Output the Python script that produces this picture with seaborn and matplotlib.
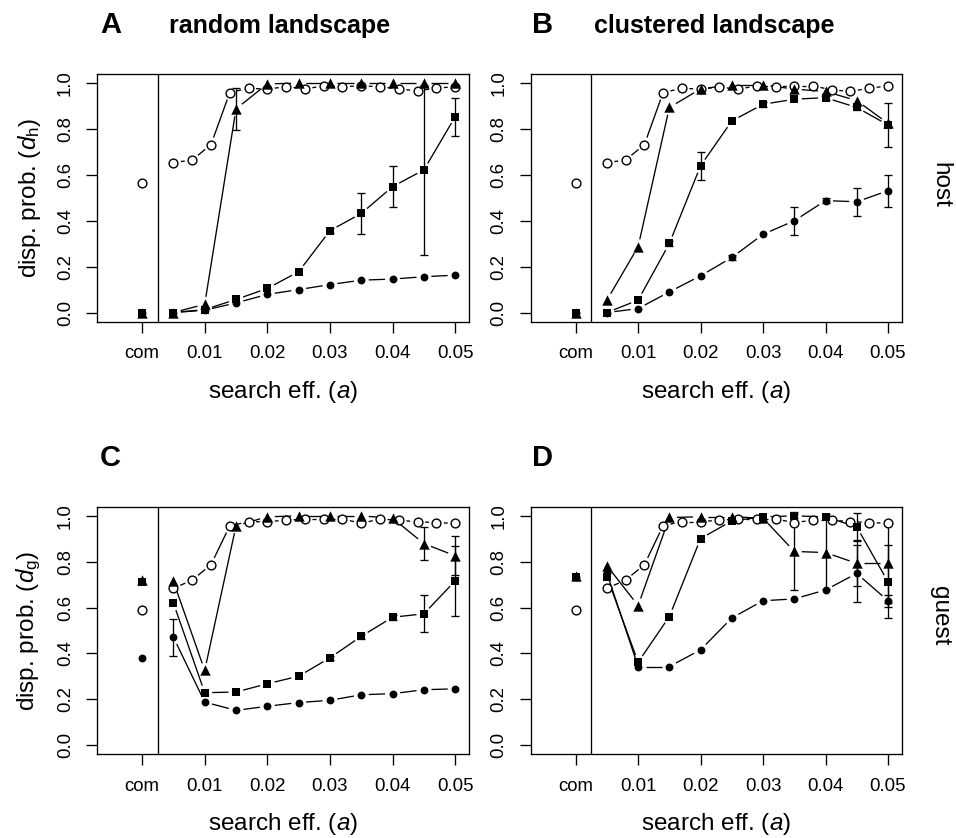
import numpy as np
import pandas as pd
import matplotlib
matplotlib.use("Agg")
import matplotlib.pyplot as plt
import seaborn as sns

# ---------------- data ----------------
a_vals = [0.005, 0.010, 0.015, 0.020, 0.025, 0.030, 0.035, 0.040, 0.045, 0.050]
a_fine = [0.005, 0.008, 0.011, 0.014, 0.017, 0.020, 0.023, 0.026,
          0.029, 0.032, 0.035, 0.038, 0.041, 0.044, 0.047, 0.050]
com_x = 0.0
xtick_vals = [0.0, 0.01, 0.02, 0.03, 0.04, 0.05]
xtick_labels = ["com", "0.01", "0.02", "0.03", "0.04", "0.05"]
ytick_vals = [0.0, 0.2, 0.4, 0.6, 0.8, 1.0]
ytick_labels = ["0.0", "0.2", "0.4", "0.6", "0.8", "1.0"]

# Panel A: host, random landscape
A_open_com, A_tri_com, A_sq_com, A_circ_com = 0.566, 0.0, 0.0, 0.0
A_open = [0.654, 0.665, 0.732, 0.959, 0.978, 0.974, 0.985, 0.975,
          0.988, 0.985, 0.988, 0.985, 0.974, 0.967, 0.978, 0.985]
A_tri = [0.0, 0.036, 0.888, 0.997, 1.0, 1.0, 1.0, 1.0, 1.0, 1.0]
A_tri_err = [0, 0, 0.09, 0, 0, 0, 0, 0, 0, 0]
A_sq = [0.0, 0.013, 0.057, 0.105, 0.178, 0.357, 0.432, 0.549, 0.622, 0.854]
A_sq_err = [0, 0, 0, 0, 0, 0.01, 0.09, 0.09, 0.37, 0.083]
A_circ = [0.0, 0.010, 0.042, 0.079, 0.100, 0.122, 0.141, 0.146, 0.156, 0.163]
A_circ_err = [0, 0, 0, 0, 0, 0, 0, 0, 0, 0]

# Panel B: host, clustered landscape
B_open_com, B_tri_com, B_sq_com, B_circ_com = 0.566, 0.0, 0.0, 0.0
B_open = [0.654, 0.665, 0.732, 0.959, 0.978, 0.974, 0.983, 0.974,
          0.988, 0.983, 0.988, 0.988, 0.971, 0.964, 0.978, 0.988]
B_tri = [0.054, 0.287, 0.894, 0.975, 0.993, 0.993, 0.974, 0.964, 0.924, 0.825]
B_tri_err = [0, 0, 0, 0, 0, 0, 0, 0, 0, 0]
B_sq = [0.0, 0.054, 0.301, 0.640, 0.835, 0.908, 0.930, 0.937, 0.894, 0.818]
B_sq_err = [0, 0, 0.012, 0.06, 0, 0.01, 0, 0.01, 0.01, 0.096]
B_circ = [0.0, 0.017, 0.090, 0.160, 0.240, 0.341, 0.400, 0.488, 0.483, 0.531]
B_circ_err = [0, 0, 0, 0, 0.01, 0, 0.06, 0.012, 0.06, 0.07]

# Panel C: guest, random landscape
C_open_com, C_tri_com, C_sq_com, C_circ_com = 0.59, 0.72, 0.71, 0.381
C_open = [0.684, 0.720, 0.787, 0.957, 0.974, 0.975, 0.981, 0.986,
          0.986, 0.986, 0.968, 0.986, 0.981, 0.974, 0.971, 0.967]
C_tri = [0.714, 0.326, 0.957, 0.996, 1.0, 1.0, 1.0, 0.99, 0.879, 0.826]
C_tri_err = [0, 0, 0, 0, 0, 0, 0, 0, 0.072, 0.085]
C_sq = [0.620, 0.229, 0.232, 0.268, 0.301, 0.381, 0.475, 0.558, 0.573, 0.717]
C_sq_err = [0, 0, 0, 0, 0, 0.01, 0.01, 0.01, 0.08, 0.152]
C_circ = [0.471, 0.188, 0.152, 0.170, 0.186, 0.196, 0.220, 0.225, 0.242, 0.246]
C_circ_err = [0.08, 0, 0, 0, 0, 0, 0, 0, 0, 0]

# Panel D: guest, clustered landscape
D_open_com, D_tri_com, D_sq_com, D_circ_com = 0.59, 0.739, 0.735, 0.735
D_open = [0.684, 0.720, 0.787, 0.957, 0.975, 0.975, 0.981, 0.986,
          0.986, 0.986, 0.971, 0.981, 0.981, 0.975, 0.971, 0.968]
D_tri = [0.783, 0.609, 0.993, 0.996, 0.996, 0.990, 0.845, 0.840, 0.793, 0.793]
D_tri_err = [0, 0, 0, 0, 0, 0, 0.17, 0.16, 0.10, 0.175]
D_sq = [0.735, 0.362, 0.561, 0.901, 0.978, 0.996, 1.0, 0.996, 0.952, 0.713]
D_sq_err = [0, 0, 0, 0, 0, 0, 0.01, 0.01, 0.06, 0.158]
D_circ = [0.750, 0.343, 0.343, 0.416, 0.555, 0.630, 0.638, 0.677, 0.749, 0.630]
D_circ_err = [0, 0, 0, 0, 0, 0, 0, 0, 0.126, 0.027]

panel_letters = ["A", "B", "C", "D"]
panel_titles = ["random landscape", "clustered landscape", "", ""]
row_labels = ["host", "guest"]
ylabels = [r"disp. prob. ($d_\mathrm{h}$)", r"disp. prob. ($d_\mathrm{g}$)"]
xlabel = r"search eff. ($a$)"

# ---------------- style ----------------
sns.set_style("ticks")
plt.rcParams["font.family"] = ["Liberation Sans", "DejaVu Sans"]
plt.rcParams["mathtext.fontset"] = "custom"
plt.rcParams["mathtext.rm"] = "Liberation Sans"
plt.rcParams["mathtext.it"] = "Liberation Sans:italic"
plt.rcParams["mathtext.bf"] = "Liberation Sans:bold"
plt.rcParams["text.color"] = "black"
plt.rcParams["axes.labelcolor"] = "black"
plt.rcParams["xtick.color"] = "black"
plt.rcParams["ytick.color"] = "black"
plt.rcParams["axes.edgecolor"] = "black"

W, H = 956, 838
fig = plt.figure(figsize=(W / 100, H / 100), dpi=100)
fig.patch.set_facecolor("white")


def rect(x0, y0, x1, y1):
    return [x0 / W, 1 - y1 / H, (x1 - x0) / W, (y1 - y0) / H]


rects = [rect(97, 74, 469, 321.7), rect(530.7, 74, 901.7, 321.7),
         rect(97, 506.7, 469, 754.4), rect(530.7, 506.7, 901.7, 754.4)]

panels = [
    (A_open_com, A_open, A_tri_com, A_tri, A_tri_err, A_sq_com, A_sq, A_sq_err, A_circ_com, A_circ, A_circ_err),
    (B_open_com, B_open, B_tri_com, B_tri, B_tri_err, B_sq_com, B_sq, B_sq_err, B_circ_com, B_circ, B_circ_err),
    (C_open_com, C_open, C_tri_com, C_tri, C_tri_err, C_sq_com, C_sq, C_sq_err, C_circ_com, C_circ, C_circ_err),
    (D_open_com, D_open, D_tri_com, D_tri, D_tri_err, D_sq_com, D_sq, D_sq_err, D_circ_com, D_circ, D_circ_err),
]

LW = 0.95
GAP = 7.5  # px gap around points (like R type="b")


def gapped_lines(ax, xs, ys, gap=GAP):
    pts = ax.transData.transform(np.column_stack([xs, ys]))
    inv = ax.transData.inverted()
    for p0, p1 in zip(pts[:-1], pts[1:]):
        d = p1 - p0
        L = np.hypot(d[0], d[1])
        if L <= 2 * gap:
            continue
        u = d / L
        a = inv.transform(p0 + gap * u)
        b = inv.transform(p1 - gap * u)
        ax.plot([a[0], b[0]], [a[1], b[1]], color="black", lw=LW,
                solid_capstyle="butt", zorder=2)


def errbars(ax, xs, ys, errs):
    xs = np.asarray(xs); ys = np.asarray(ys); errs = np.asarray(errs)
    m = errs > 0
    if m.any():
        ax.errorbar(xs[m], ys[m], yerr=errs[m], fmt="none", ecolor="black",
                    elinewidth=LW, capsize=3, capthick=LW, zorder=2)


for i, (ax_rect, pdata) in enumerate(zip(rects, panels)):
    ax = fig.add_axes(ax_rect)
    (o_com, o_vals, t_com, t_vals, t_err, s_com, s_vals, s_err,
     c_com, c_vals, c_err) = pdata
    ax.set_xlim(-0.0072, 0.0522)
    ax.set_ylim(-0.04, 1.04)

    ax.axvline(0.0025, color="black", lw=LW, zorder=1)

    # connecting lines with gaps
    gapped_lines(ax, a_fine, o_vals)
    gapped_lines(ax, a_vals, t_vals)
    gapped_lines(ax, a_vals, s_vals)
    gapped_lines(ax, a_vals, c_vals)

    errbars(ax, a_vals, t_vals, t_err)
    errbars(ax, a_vals, s_vals, s_err)
    errbars(ax, a_vals, c_vals, c_err)

    df_open = pd.DataFrame({"x": [com_x] + a_fine, "y": [o_com] + o_vals})
    df_tri = pd.DataFrame({"x": [com_x] + a_vals, "y": [t_com] + t_vals})
    df_sq = pd.DataFrame({"x": [com_x] + a_vals, "y": [s_com] + s_vals})
    df_circ = pd.DataFrame({"x": [com_x] + a_vals, "y": [c_com] + c_vals})

    sns.scatterplot(data=df_open, x="x", y="y", ax=ax, marker="o", s=40,
                    color="white", edgecolor="black", linewidth=1.0, zorder=3)
    sns.scatterplot(data=df_circ, x="x", y="y", ax=ax, marker="o", s=32,
                    color="black", edgecolor="black", linewidth=0, zorder=4)
    sns.scatterplot(data=df_sq, x="x", y="y", ax=ax, marker="s", s=30,
                    color="black", edgecolor="black", linewidth=0, zorder=4)
    sns.scatterplot(data=df_tri, x="x", y="y", ax=ax, marker="^", s=56,
                    color="black", edgecolor="black", linewidth=0, zorder=4)

    ax.set_xticks(xtick_vals)
    ax.set_xticklabels(xtick_labels)
    ax.set_yticks(ytick_vals)
    ax.set_yticklabels(ytick_labels, rotation=90, va="center")
    ax.tick_params(axis="both", direction="out", length=7.7, width=LW,
                   labelsize=13.4, color="black", labelcolor="black")
    ax.tick_params(axis="x", pad=9)
    ax.tick_params(axis="y", pad=9)
    for sp in ax.spines.values():
        sp.set_visible(True)
        sp.set_linewidth(LW)
        sp.set_color("black")
    ax.set_xlabel(xlabel, fontsize=17.5, labelpad=12, color="black")
    if i % 2 == 0:
        ax.set_ylabel(ylabels[i // 2], fontsize=17.5, labelpad=10, color="black")
    else:
        ax.set_ylabel("")
    ax.grid(False)
    ax.set_facecolor("white")

# panel letters and titles
letter_pos = [(100, 33), (531.5, 33), (100, 466), (531.5, 466)]
title_x = [169, 594]
for i, (lx, ly) in enumerate(letter_pos):
    fig.text(lx / W, 1 - ly / H, panel_letters[i], fontsize=21,
             fontweight="bold", ha="left", va="baseline", color="black")
    if panel_titles[i]:
        fig.text(title_x[i] / W, 1 - ly / H, panel_titles[i], fontsize=18,
                 fontweight="bold", ha="left", va="baseline", color="black")

# row labels
fig.text(940 / W, 1 - 185 / H, row_labels[0], fontsize=17.5, rotation=270,
         ha="center", va="center", color="black")
fig.text(940 / W, 1 - 616 / H, row_labels[1], fontsize=17.5, rotation=270,
         ha="center", va="center", color="black")

fig.savefig("out.png", dpi=100, facecolor="white")
